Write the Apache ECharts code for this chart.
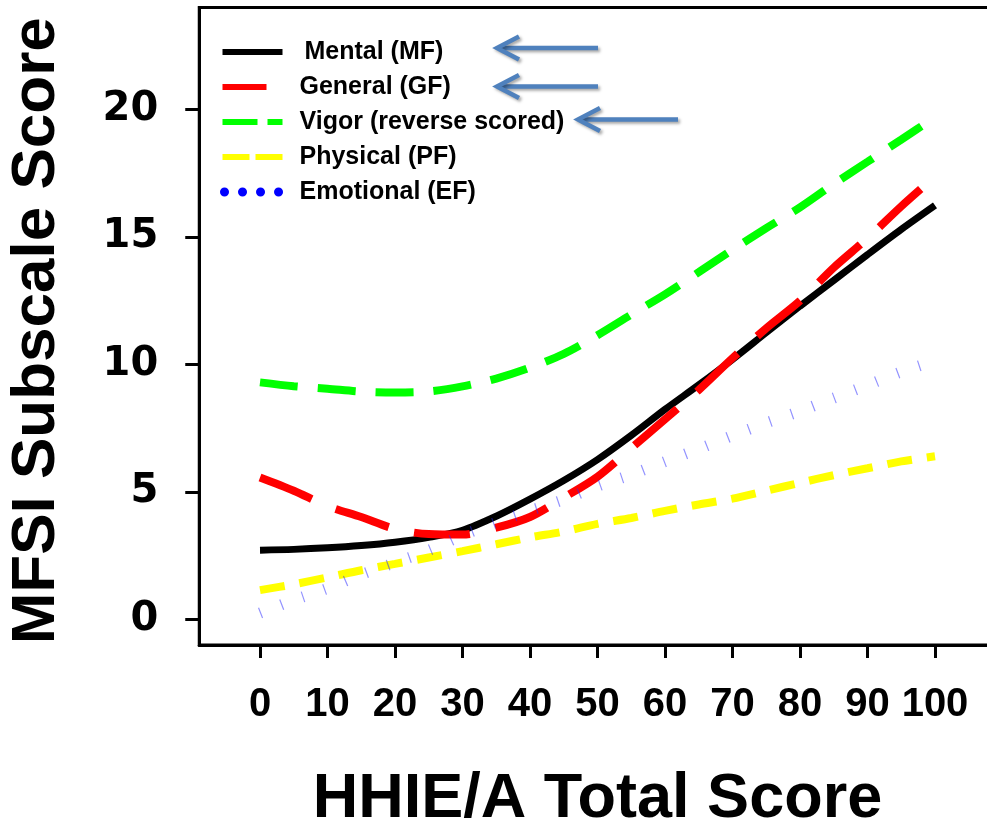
<!DOCTYPE html>
<html>
<head>
<meta charset="utf-8">
<script src="https://cdn.jsdelivr.net/npm/echarts@6/dist/echarts.min.js"></script>
<style>
  html, body { margin: 0; padding: 0; background: #fff; }
  #chart { width: 987px; height: 824px; }
</style>
</head>
<body>
<div id="chart"></div>
<script>
// HHIE/A total score (x) and fitted MFSI subscale scores (y)
const hhie      = [0, 5, 10, 15, 20, 25, 30, 35, 40, 45, 50, 55, 60, 65, 70, 75, 80, 85, 90, 95, 100];
const mentalMF  = [2.72, 2.75, 2.81, 2.9, 3.03, 3.22, 3.5, 4.05, 4.72, 5.45, 6.27, 7.22, 8.24, 9.2, 10.2, 11.25, 12.29, 13.3, 14.31, 15.3, 16.24];
const generalGF = [5.57, 5.05, 4.45, 4.02, 3.55, 3.35, 3.33, 3.6, 4.02, 4.78, 5.6, 6.72, 7.85, 9.0, 10.25, 11.42, 12.5, 13.8, 14.95, 16.2, 17.37];
const vigorVF   = [9.3, 9.15, 9.05, 8.94, 8.9, 8.94, 9.14, 9.45, 9.88, 10.42, 11.15, 11.96, 12.75, 13.62, 14.5, 15.35, 16.16, 17.08, 17.95, 18.82, 19.7];
const physPF    = [1.15, 1.38, 1.65, 1.93, 2.18, 2.43, 2.68, 2.95, 3.22, 3.45, 3.75, 3.98, 4.26, 4.51, 4.74, 5.05, 5.36, 5.66, 5.93, 6.2, 6.4];
const emotEF    = [0.25, 0.76, 1.22, 1.76, 2.23, 2.71, 3.3, 3.81, 4.27, 4.7, 5.23, 5.68, 6.19, 6.69, 7.21, 7.71, 8.17, 8.68, 9.19, 9.71, 10.15];

const seriesNames = ['Mental (MF)', 'General (GF)', 'Vigor (reverse scored)', 'Physical (PF)', 'Emotional (EF)'];
const xTickValues = [0, 10, 20, 30, 40, 50, 60, 70, 80, 90, 100];
const yTickValues = [0, 5, 10, 15, 20];

const pairs = ys => hhie.map((x, i) => [x, ys[i]]);

const boldSans = { fontFamily: 'Liberation Sans, Arial, sans-serif', fontWeight: 'bold', color: '#000' };

// blue call-out arrows next to three legend entries
const arrowColor = '#4F81BD';
const arrowSpecs = [
  { tip: 497, end: 598, y: 48 },
  { tip: 497, end: 598, y: 86.5 },
  { tip: 578, end: 678, y: 119.5 }
];
const arrowShadow = { shadowColor: 'rgba(0,0,0,0.35)', shadowBlur: 3, shadowOffsetX: 2, shadowOffsetY: 2 };
const arrowGraphics = arrowSpecs.map(a => ({
  type: 'group',
  children: [
    {
      type: 'line',
      shape: { x1: a.tip + 3, y1: a.y, x2: a.end, y2: a.y },
      style: Object.assign({ stroke: arrowColor, lineWidth: 4.5 }, arrowShadow)
    },
    {
      type: 'polyline',
      shape: { points: [[a.tip + 22, a.y - 11.5], [a.tip, a.y], [a.tip + 22, a.y + 11.5]] },
      style: Object.assign({ stroke: arrowColor, fill: null, lineWidth: 4.5, lineJoin: 'miter' }, arrowShadow)
    }
  ]
}));

const chart = echarts.init(document.getElementById('chart'), null, { renderer: 'canvas' });

chart.setOption({
  animation: false,
  backgroundColor: '#fff',
  grid: {
    left: 199.25, top: 7.5, width: 796.5, height: 637.5,
    outerBoundsMode: 'none', containLabel: false,
    show: true, borderColor: '#000', borderWidth: 3, backgroundColor: 'transparent'
  },
  xAxis: {
    type: 'value', min: -9, max: 109,
    name: 'HHIE/A Total Score', nameLocation: 'middle', nameGap: 123,
    nameTextStyle: Object.assign({ fontSize: 63 }, boldSans),
    axisLine: { show: true, onZero: false, lineStyle: { color: '#000', width: 3 } },
    axisTick: { show: true, customValues: xTickValues, length: 13, lineStyle: { color: '#000', width: 3 } },
    axisLabel: Object.assign({ customValues: xTickValues, margin: 40, fontSize: 40 }, boldSans),
    splitLine: { show: false }
  },
  yAxis: {
    type: 'value', min: -1, max: 24,
    name: 'MFSI Subscale Score', nameLocation: 'middle', nameGap: 131,
    nameTextStyle: Object.assign({ fontSize: 62, padding: [0, 9, 0, 0] }, boldSans),
    axisLine: { show: true, onZero: false, lineStyle: { color: '#000', width: 3 } },
    axisTick: { show: true, customValues: yTickValues, length: 14, lineStyle: { color: '#000', width: 3 } },
    axisLabel: Object.assign({ customValues: yTickValues, margin: 41, fontSize: 40 }, boldSans, { fontFamily: 'DejaVu Sans, sans-serif' }),
    splitLine: { show: false }
  },
  legend: {
    orient: 'vertical', left: 213, top: 32,
    itemWidth: 60, itemHeight: 14, itemGap: 5,
    selectedMode: false,
    textStyle: Object.assign({ fontSize: 25, lineHeight: 30, padding: [0, 0, 0, 12] }, boldSans),
    data: [
      { name: seriesNames[0], itemStyle: { opacity: 0 }, lineStyle: { width: 6, type: 'solid' }, textStyle: { padding: [0, 0, 0, 17] } },
      { name: seriesNames[1], itemStyle: { opacity: 0 }, lineStyle: { width: 6, type: [44, 30] } },
      { name: seriesNames[2], itemStyle: { opacity: 0 }, lineStyle: { width: 6, type: [35, 10] } },
      { name: seriesNames[3], itemStyle: { opacity: 0 }, lineStyle: { width: 6, type: [27, 6] } },
      { name: seriesNames[4], itemStyle: { opacity: 0 }, lineStyle: { width: 9, type: [0.01, 18], cap: 'round', color: '#0000ff', opacity: 1, dashOffset: -2 } }
    ]
  },
  series: [
    {
      name: seriesNames[0], type: 'line', data: pairs(mentalMF), symbol: 'none', smooth: 0.3,
      lineStyle: { color: '#000000', width: 7, cap: 'butt' }, itemStyle: { color: '#000000' }
    },
    {
      name: seriesNames[1], type: 'line', data: pairs(generalGF), symbol: 'none', smooth: 0.3,
      lineStyle: { color: '#ff0000', width: 8, type: [56, 26], cap: 'butt' }, itemStyle: { color: '#ff0000' }
    },
    {
      name: seriesNames[2], type: 'line', data: pairs(vigorVF), symbol: 'none', smooth: 0.3,
      lineStyle: { color: '#00ff00', width: 8, type: [38, 20], cap: 'butt' }, itemStyle: { color: '#00ff00' }
    },
    {
      name: seriesNames[3], type: 'line', data: pairs(physPF), symbol: 'none', smooth: 0.3,
      lineStyle: { color: '#ffff00', width: 8, type: [25, 15], cap: 'butt' }, itemStyle: { color: '#ffff00' }
    },
    {
      name: seriesNames[4], type: 'line', data: pairs(emotEF), symbol: 'none', smooth: 0.3,
      lineStyle: { color: 'rgba(40,40,255,0.5)', width: 11, type: [1.2, 21.5], cap: 'butt' }, itemStyle: { color: '#0000ff' }
    }
  ],
  graphic: arrowGraphics
});
</script>
</body>
</html>
